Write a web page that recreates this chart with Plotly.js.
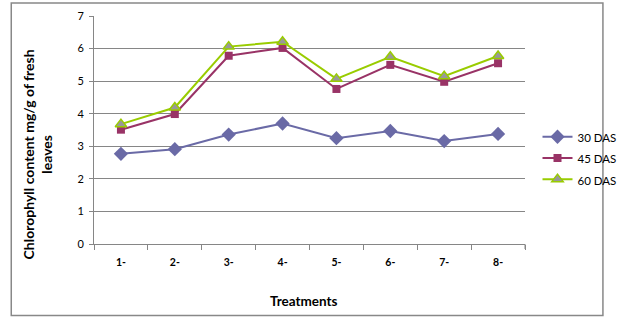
<!DOCTYPE html>
<html>
<head>
<meta charset="utf-8">
<script src="https://cdn.plot.ly/plotly-3.0.1.min.js"></script>
<style>html,body{margin:0;padding:0;background:#fff;}#chart{width:633px;height:325px;}</style>
</head>
<body>
<div id="chart"></div>
<script>
var treatments = ["1-", "2-", "3-", "4-", "5-", "6-", "7-", "8-"];
var das30 = [2.77, 2.91, 3.36, 3.70, 3.25, 3.47, 3.16, 3.38];
var das45 = [3.51, 3.99, 5.78, 6.02, 4.76, 5.50, 4.98, 5.55];
var das60 = [3.68, 4.19, 6.06, 6.21, 5.07, 5.75, 5.15, 5.77];
var seriesNames = ["30 DAS", "45 DAS", "60 DAS"];
var yTicks = [0, 1, 2, 3, 4, 5, 6, 7];

var W = 633, H = 325;
var L = 94, R = 542, T = 16, B = 243.7;
function px(x) { return (x - L) / (R - L); }
function py(y) { return (B - y) / (B - T); }

var font = "Lato, 'Open Sans', sans-serif";
function legName(n) { return "<span style='font-size:11.5px'>" + n + "</span>"; }

var traces = [
  {x: treatments, y: das30, name: legName(seriesNames[0]), type: "scatter", mode: "lines+markers",
   line: {color: "#6A6AA6", width: 2}, marker: {symbol: "diamond", size: 11, color: "#6A6AA6"}},
  {x: treatments, y: das45, name: legName(seriesNames[1]), type: "scatter", mode: "lines+markers",
   line: {color: "#993366", width: 2}, marker: {symbol: "square", size: 8, color: "#993366"}},
  {x: treatments, y: das60, name: legName(seriesNames[2]), type: "scatter", mode: "lines+markers",
   line: {color: "#99CC00", width: 2}, marker: {symbol: "triangle-up", size: 10, color: "#999999", line: {color: "#99CC00", width: 1.5}}}
];

var layout = {
  width: W, height: H,
  margin: {l: L, r: W - R, t: T, b: H - B, pad: 0},
  paper_bgcolor: "#fff", plot_bgcolor: "#fff",
  font: {family: font, size: 11, color: "#000"},
  showlegend: true,
  legend: {x: px(555), y: py(121), xanchor: "left", yanchor: "top",
           font: {family: font, size: 14, color: "#000"}, bgcolor: "rgba(0,0,0,0)", tracegroupgap: 0},
  xaxis: {
    type: "category", tickson: "boundaries", ticks: "outside", ticklen: 5, tickcolor: "#868686",
    showline: true, linecolor: "#868686", linewidth: 1, showgrid: false, zeroline: false,
    tickvals: treatments, ticktext: treatments.map(function(t){return "<b>" + t + "</b>";}),
    tickfont: {family: font, size: 10.5, color: "#000"}, ticklabelstandoff: 8,
    range: [-0.5, 7.5], fixedrange: true
  },
  yaxis: {
    range: [0, 7], tickvals: yTicks, ticks: "outside", ticklen: 4, tickcolor: "#868686",
    showline: true, linecolor: "#868686", linewidth: 1,
    showgrid: true, gridcolor: "#868686", gridwidth: 1, zeroline: false,
    tickfont: {family: font, size: 11, color: "#000"}, ticklabelstandoff: 3, fixedrange: true
  },
  annotations: [
    {text: "<b>Chlorophyll content mg/g of fresh<br>leaves</b>", xref: "paper", yref: "paper",
     x: px(35), y: py(154), textangle: -90, showarrow: false, xanchor: "center", yanchor: "middle",
     font: {family: font, size: 14, color: "#000"}},
    {text: "<b>Treatments</b>", xref: "paper", yref: "paper", x: px(312), y: py(301),
     showarrow: false, xanchor: "center", yanchor: "middle", font: {family: font, size: 13.5, color: "#000"}}
  ],
  shapes: [
    {type: "rect", xref: "paper", yref: "paper", x0: px(8), x1: px(623), y0: py(315), y1: py(3),
     line: {color: "#888888", width: 1.5}, fillcolor: "rgba(0,0,0,0)", layer: "below"},
    {type: "line", xref: "paper", yref: "paper", x0: 1, x1: 1, y0: py(243.7), y1: py(248.7),
     line: {color: "#868686", width: 1}}
  ]
};

Plotly.newPlot("chart", traces, layout, {displayModeBar: false, staticPlot: true});
</script>
</body>
</html>
